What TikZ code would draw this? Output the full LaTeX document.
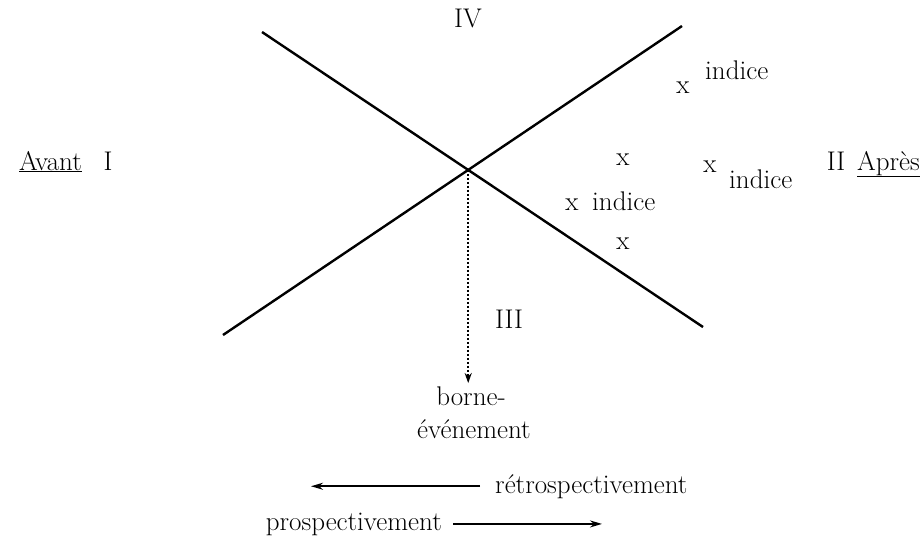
\documentclass[tikz,border=0pt]{standalone}
\usetikzlibrary{arrows.meta}
\begin{document}
\begin{tikzpicture}[x=1pt, y=-1pt, every node/.style={inner sep=2pt, font=\fontsize{27}{32}\selectfont},
    trait/.style={line width=2.4pt},
    fleche/.style={line width=1.8pt, -{Stealth[length=12pt,width=7pt]}}]
  \useasboundingbox (0,0) rectangle (921,542);

  % Extremites des deux droites
  \coordinate (a1) at (262,32);
  \coordinate (a2) at (703,327);
  \coordinate (b1) at (682,26);
  \coordinate (b2) at (223,335);
  \coordinate (c) at (intersection of a1--a2 and b1--b2);

  % Droites
  \draw[trait] (a1) -- (a2);
  \draw[trait] (b1) -- (b2);

  % Quadrants
  \node[anchor=base] (iv) at (468,27) {IV};
  \node[anchor=base] (iii) at (509,328) {III};
  \node[anchor=base west] (avant) at (17,170) {\underline{Avant}};
  \node[anchor=base] (i) at (108,170) {I};
  \node[anchor=base] (ii) at (836,170) {II};
  \node[anchor=base east] (apres) at (922,170) {\underline{Après}};

  % Indices
  \node[anchor=base] (x1) at (683,93) {x};
  \node[anchor=base west] (ind1) at (703,79) {indice};
  \node[anchor=base] (x2) at (623,165) {x};
  \node[anchor=base] (x3) at (710,172) {x};
  \node[anchor=base west] (ind3) at (727,188) {indice};
  \node[anchor=base] (x4) at (572,210) {x};
  \node[anchor=base west] (ind4) at (590,210) {indice};
  \node[anchor=base] (x5) at (623,249) {x};

  % Borne
  \node[anchor=base] (borne) at (471,405) {borne-};
  \node[anchor=base] (evt) at (474,438) {événement};
  \draw[line width=2.2pt, dash pattern=on 2pt off 2pt, -{Stealth[length=10pt,width=7pt]}, shorten >=1pt] (c) -- (c |- borne.north);

  % Directions
  \coordinate (rtip) at (311,0);
  \coordinate (ptip) at (602,0);
  \node[anchor=base west] (retro) at (493,493) {rétrospectivement};
  \node[anchor=base east] (prosp) at (444,530) {prospectivement};
  \draw[fleche, shorten <=13pt] (retro.west) -- (retro.west -| rtip);
  \draw[fleche, shorten <=9pt] (prosp.east) -- (prosp.east -| ptip);
\end{tikzpicture}
\end{document}
